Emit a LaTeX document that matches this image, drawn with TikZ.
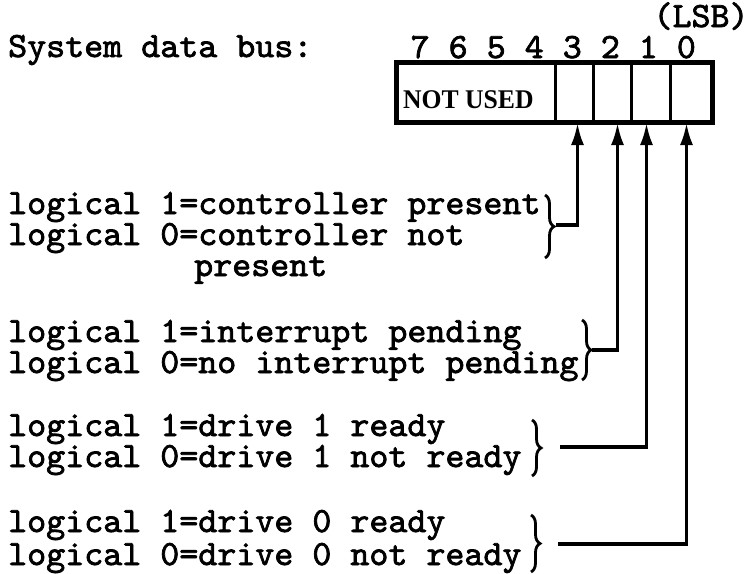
\documentclass[tikz,border=0pt]{standalone}
\usepackage{fontspec}
\setmainfont{Liberation Serif}
\newfontfamily\twfont{lmmono10-regular.otf}[FakeBold=2]
\usetikzlibrary{arrows.meta,decorations.pathreplacing,calc}
\begin{document}
\begin{tikzpicture}[x=1pt,y=-1pt,
  mono/.style={font=\twfont\fontsize{35.5}{40}\selectfont, inner sep=0pt, text height=18pt, text depth=6pt, anchor=base west, xscale=1.02, transform shape},
  cell/.style={draw, line width=3pt, minimum height=58pt, inner sep=0pt, anchor=north west},
  wire/.style={line width=3.2pt},
  arr/.style={wire, -{Latex[length=22pt,width=13pt]}},
  brc/.style={line width=2.8pt, decorate, decoration={brace, amplitude=9pt}}]
\useasboundingbox[fill=white] (0,0) rectangle (751,573);

% register cells
\node[cell, minimum width=158pt] (nu) at (396,62) {};
\node[cell, minimum width=38pt] (b3) at (554,62) {};
\node[cell, minimum width=38pt] (b2) at (592,62) {};
\node[cell, minimum width=39pt] (b1) at (630,62) {};
\node[cell, minimum width=41pt] (b0) at (669,62) {};
\draw[line width=3.8pt] (nu.north west) rectangle (b0.south east);
\node[font=\bfseries\fontsize{27}{30}\selectfont, inner sep=0pt, anchor=base west, xscale=0.95, transform shape] (nut) at (403,108) {NOT USED};

% headings
\node[mono] (sdb) at (8,57) {System data bus:};
\node[mono] (bits) at (410.5,58) {7 6 5 4 3 2 1 0};
\node[mono, anchor=base] (lsb) at (701,27) {(LSB)};

% descriptions
\node[mono] (c1) at (8,214) {logical 1=controller present};
\node[mono] (c2) at (8,245) {logical 0=controller not};
\node[mono] (c3) at (194,276) {present};
\node[mono] (i1) at (8,342) {logical 1=interrupt pending};
\node[mono] (i2) at (8,373) {logical 0=no interrupt pending};
\node[mono] (d1) at (8,436) {logical 1=drive 1 ready};
\node[mono] (d2) at (8,467) {logical 0=drive 1 not ready};
\node[mono] (e1) at (8,532) {logical 1=drive 0 ready};
\node[mono] (e2) at (8,565) {logical 0=drive 0 not ready};

% braces
\draw[brc] (545,195) -- (545,258);
\draw[brc] (582,320) -- (582,380);
\draw[brc] (532,420) -- (532,476);
\draw[brc] (531,515) -- (531,572);

% hook coordinates
\coordinate (h3) at (556,225);
\coordinate (h2) at (592,350);
\coordinate (h1) at (560,447);
\coordinate (h0) at (558,544);

% connectors
\draw[arr] (h3) -| ([xshift=3pt]b3.south);
\draw[arr] (h2) -| ([xshift=5pt]b2.south);
\draw[arr] (h1) -| ([xshift=-4.5pt]b1.south);
\draw[arr] (h0) -| ([xshift=-4.5pt]b0.south);
\end{tikzpicture}
\end{document}
